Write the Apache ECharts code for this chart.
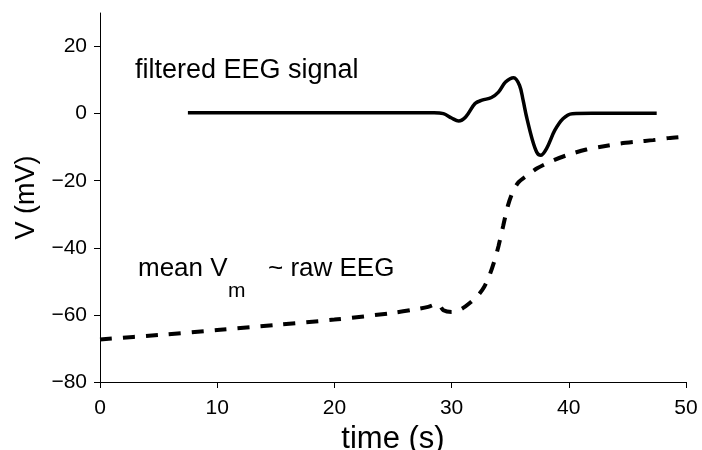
<!DOCTYPE html>
<html>
<head>
<meta charset="utf-8">
<script src="https://cdn.jsdelivr.net/npm/echarts@6/dist/echarts.min.js"></script>
<style>
html,body{margin:0;padding:0;background:#fff;}
#chart{width:702px;height:450px;}
</style>
</head>
<body>
<div id="chart"></div>
<script>
// filtered EEG signal (solid)
var eegTime = [7.5, 20, 28.5, 29.3, 30.0, 30.6, 31.2, 32.0, 32.6, 33.4, 34.0, 34.6, 35.3, 35.8, 36.1, 36.4, 36.9, 37.3, 37.6, 38.1, 38.8, 39.5, 40.3, 42, 47.5];
var eegValue = [0.3, 0.3, 0.3, 0.0, -1.3, -2.2, -1.0, 3.0, 4.0, 4.8, 6.4, 9.4, 10.7, 8.4, 4.0, -1.0, -7.9, -11.7, -12.4, -10.4, -5.0, -1.5, 0.0, 0.1, 0.1];

// mean Vm ~ raw EEG (dashed)
var vmTime = [0, 5, 10, 15, 20, 25, 27, 28, 28.8, 29.3, 30.0, 30.8, 31.6, 32.3, 32.8, 33.2, 33.6, 34.0, 34.4, 34.8, 35.2, 35.7, 36.5, 37.3, 38.7, 40, 41.5, 43, 44.4, 46, 47.2, 48.5, 50];
var vmValue = [-67.3, -66.0, -64.5, -63.0, -61.4, -59.4, -58.3, -57.6, -56.7, -58.6, -59.1, -58.3, -56.3, -54.0, -51.5, -48.5, -44.5, -39.5, -33.5, -27.5, -23.5, -20.5, -18.3, -16.3, -13.9, -12.2, -10.7, -9.7, -8.9, -8.3, -7.9, -7.3, -6.8];

var xTicks = [0, 10, 20, 30, 40, 50];
var yTicks = [-80, -60, -40, -20, 0, 20];

function pairs(xs, ys) { return xs.map(function (x, i) { return [x, ys[i]]; }); }

var FONT = '"Liberation Sans", Arial, sans-serif';
var chart = echarts.init(document.getElementById('chart'), null, {renderer: 'canvas'});
chart.setOption({
  animation: false,
  backgroundColor: '#fff',
  grid: {left: 100, right: 16, top: 13, bottom: 68, containLabel: false, outerBoundsMode: 'none'},
  xAxis: {
    type: 'value', min: 0, max: 50, interval: 10,
    name: 'time (s)', nameLocation: 'middle', nameGap: 40,
    nameTextStyle: {fontFamily: FONT, fontSize: 31, color: '#000'},
    axisLine: {show: true, onZero: false, lineStyle: {color: '#000', width: 1}},
    axisTick: {show: true, length: 6, lineStyle: {color: '#000'}, customValues: xTicks},
    axisLabel: {fontFamily: FONT, fontSize: 21, color: '#000', margin: 16, customValues: xTicks},
    splitLine: {show: false}
  },
  yAxis: {
    type: 'value', min: -80, max: 30, interval: 10,
    name: 'V (mV)', nameLocation: 'middle', nameGap: 57,
    nameTextStyle: {fontFamily: FONT, fontSize: 27, color: '#000'},
    axisLine: {show: true, onZero: false, lineStyle: {color: '#000', width: 1}},
    axisTick: {show: true, length: 6, lineStyle: {color: '#000'}, customValues: yTicks},
    axisLabel: {fontFamily: FONT, fontSize: 21, color: '#000', margin: 13, customValues: yTicks,
      formatter: function (v) { return v < 0 ? '\u2212' + Math.abs(v) : String(v); }},
    splitLine: {show: false}
  },
  series: [
    {
      type: 'line', data: pairs(eegTime, eegValue), showSymbol: false, smooth: 0.35,
      lineStyle: {color: '#000', width: 3.5}
    },
    {
      type: 'line', data: pairs(vmTime, vmValue), showSymbol: false, smooth: 0.3,
      lineStyle: {color: '#000', width: 4, type: [12, 11]}
    }
  ],
  graphic: [
    {type: 'text', left: 135, top: 57, style: {text: 'filtered EEG signal', font: '27px ' + FONT, fill: '#000'}},
    {type: 'text', left: 138, top: 256, style: {text: 'mean V', font: '26px ' + FONT, fill: '#000'}},
    {type: 'text', left: 228, top: 281, style: {text: 'm', font: '21px ' + FONT, fill: '#000'}},
    {type: 'text', left: 268, top: 256, style: {text: '~ raw EEG', font: '26px ' + FONT, fill: '#000'}}
  ]
});
</script>
</body>
</html>
